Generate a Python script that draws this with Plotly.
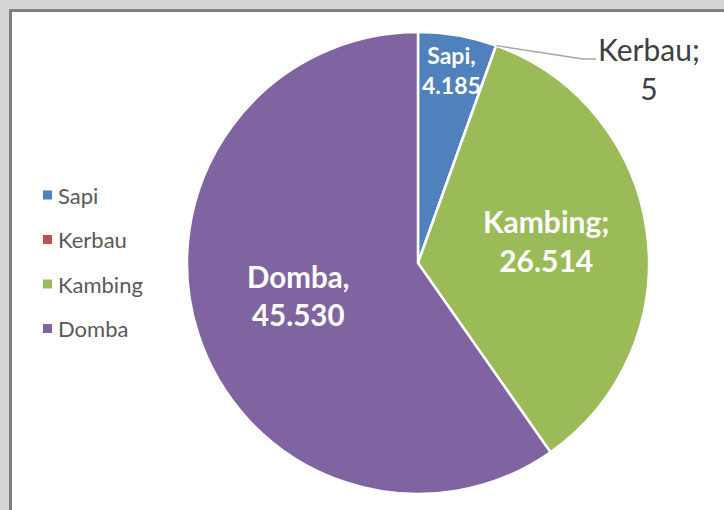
import math
import plotly.graph_objects as go

# ---- data ----
categories = ["Sapi", "Kerbau", "Kambing", "Domba"]
values = [4185, 5, 26514, 45530]
label_separators = [",", ";", ";", ","]
colors = ["#4F81BD", "#C0504D", "#9BBB59", "#8064A2"]

W, H = 724, 510
FONT = "Lato"


def px(x):
    return x / W


def py(y):
    return 1 - y / H


def fmt(v):
    return f"{v:,}".replace(",", ".")


# pie geometry (pixels)
cx, cy, r = 418, 263, 231

fig = go.Figure()
fig.add_trace(go.Pie(
    labels=categories,
    values=values,
    sort=False,
    direction="clockwise",
    rotation=0,
    marker=dict(colors=colors, line=dict(color="white", width=2.5)),
    textinfo="none",
    hoverinfo="label+value+percent",
    showlegend=False,
    domain=dict(x=[px(cx - r), px(cx + r)], y=[py(cy + r), py(cy - r)]),
))

# ---- frame (screenshot chart border) ----
shapes = [
    dict(type="rect", xref="paper", yref="paper", x0=0, x1=1, y0=0, y1=1,
         fillcolor="#d6d6d6", line=dict(width=0), layer="below"),
    dict(type="rect", xref="paper", yref="paper", x0=px(9), x1=1.05, y0=-0.05, y1=py(9),
         fillcolor="#7f7f7f", line=dict(width=0), layer="below"),
    dict(type="rect", xref="paper", yref="paper", x0=px(12), x1=1.05, y0=-0.05, y1=py(12),
         fillcolor="white", line=dict(width=0), layer="below"),
]

annotations = []

# ---- data labels ----
inside_pos = {"Sapi": (451, 70, 23), "Kambing": (546, 240, 30), "Domba": (298, 295, 29.5)}
for cat, val, sep in zip(categories, values, label_separators):
    text = f"{cat}{sep}<br>{fmt(val)}"
    if cat in inside_pos:
        x, y, s = inside_pos[cat]
        annotations.append(dict(
            x=px(x), y=py(y), xref="paper", yref="paper", text=f"<b>{text}</b>",
            showarrow=False, xanchor="center", yanchor="middle",
            font=dict(family=FONT, size=s, color="white"),
        ))
    else:
        annotations.append(dict(
            x=px(649), y=py(69), xref="paper", yref="paper", text=text,
            showarrow=False, xanchor="center", yanchor="middle",
            font=dict(family=FONT, size=30, color="#404040"),
        ))

# leader line for Kerbau: start at the slice's outer edge (angle from data)
total = sum(values)
cum = sum(values[:1])
mid_angle = 2 * math.pi * (cum + values[1] / 2) / total
sx = cx + r * math.sin(mid_angle)
sy = cy - r * math.cos(mid_angle)
shapes.append(dict(
    type="path", xref="paper", yref="paper",
    path=f"M {px(sx)},{py(sy)} L {px(583)},{py(59)} L {px(596)},{py(59)}",
    line=dict(color="#a6a6a6", width=1.5),
))

# ---- legend ----
leg_y0, leg_gap = 195, 44.5
for i, (cat, col) in enumerate(zip(categories, colors)):
    y = leg_y0 + i * leg_gap
    shapes.append(dict(
        type="rect", xref="paper", yref="paper",
        x0=px(43), x1=px(52), y0=py(y + 4.5), y1=py(y - 4.5),
        fillcolor=col, line=dict(width=0),
    ))
    annotations.append(dict(
        x=px(55.5), y=py(y), xref="paper", yref="paper", text=cat,
        showarrow=False, xanchor="left", yanchor="middle",
        font=dict(family=FONT, size=22, color="#595959"),
    ))

fig.update_layout(
    width=W, height=H, autosize=False,
    margin=dict(l=0, r=0, t=0, b=0),
    paper_bgcolor="white", plot_bgcolor="white",
    shapes=shapes, annotations=annotations,
    font=dict(family=FONT),
)

fig.write_html(
    "out.html",
    config={"displayModeBar": False},
    post_script="document.body.style.margin='0';document.body.style.overflow='hidden';",
)
